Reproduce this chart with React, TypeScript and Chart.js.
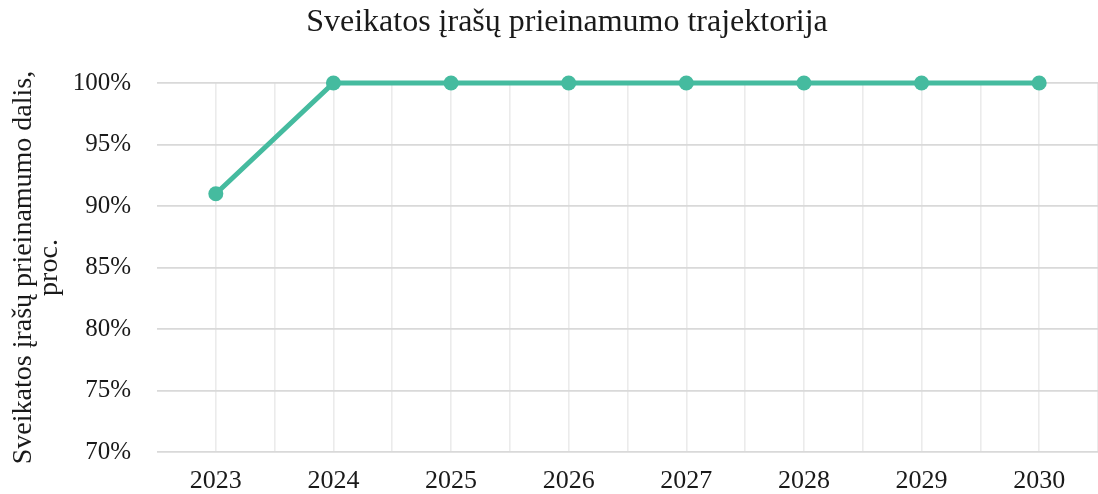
import React, { useEffect, useRef } from "react";
import { Chart, registerables } from "chart.js";

Chart.register(...registerables);

const title = "Sveikatos įrašų prieinamumo trajektorija";
const yAxisTitle = ["Sveikatos įrašų prieinamumo dalis,", "proc."];
const years = [2023, 2024, 2025, 2026, 2027, 2028, 2029, 2030];
const values = [91, 100, 100, 100, 100, 100, 100, 100];
const yMin = 70;
const yMax = 100;
const yStep = 5;

const FONT = "'Liberation Serif', 'Times New Roman', serif";
const LINE_COLOR = "#45bb9f";
const TEXT_COLOR = "#1a1a1a";

const textPlugin = {
  id: "customText",
  afterDraw(chart: any) {
    const ctx = chart.ctx;
    const area = chart.chartArea;
    ctx.save();
    ctx.fillStyle = TEXT_COLOR;
    ctx.font = `32px ${FONT}`;
    ctx.textAlign = "center";
    ctx.textBaseline = "alphabetic";
    ctx.fillText(title, 567, 31);
    ctx.restore();

    ctx.save();
    ctx.fillStyle = TEXT_COLOR;
    ctx.font = `28px ${FONT}`;
    ctx.textAlign = "center";
    ctx.textBaseline = "alphabetic";
    const cy = (area.top + area.bottom) / 2;
    const baselines = [31, 57];
    yAxisTitle.forEach((line, i) => {
      ctx.save();
      ctx.translate(baselines[i], cy);
      ctx.rotate(-Math.PI / 2);
      ctx.fillText(line, 0, 0);
      ctx.restore();
    });
    ctx.restore();
  },
};

export default function App() {
  const ref = useRef<HTMLCanvasElement | null>(null);
  useEffect(() => {
    if (!ref.current) return;
    const chart = new Chart(ref.current, {
      type: "line",
      data: {
        datasets: [
          {
            data: years.map((y, i) => ({ x: y, y: values[i] })),
            borderColor: LINE_COLOR,
            backgroundColor: LINE_COLOR,
            borderWidth: 5,
            pointRadius: 7.5,
            pointHoverRadius: 7.5,
            pointBorderWidth: 0,
            tension: 0,
            clip: false,
          } as any,
        ],
      },
      options: {
        animation: false,
        responsive: false,
        maintainAspectRatio: false,
        layout: { autoPadding: false, padding: { top: 83, left: 0, right: 0, bottom: 0 } },
        plugins: {
          legend: { display: false },
          title: { display: false },
          tooltip: { enabled: false },
        },
        scales: {
          x: {
            type: "linear",
            min: years[0] - 0.5,
            max: years[years.length - 1] + 0.5,
            afterBuildTicks(scale: any) {
              const t: any[] = [];
              for (let v = years[0] - 0.5; v <= years[years.length - 1] + 0.5 + 1e-9; v += 0.5) {
                t.push({ value: v });
              }
              scale.ticks = t;
            },
            afterFit(scale: any) {
              scale.height = 42;
              scale.paddingLeft = 0;
              scale.paddingRight = 0;
            },
            border: { display: false },
            grid: {
              color: (c: any) =>
                c.tick && Math.abs(c.tick.value - (years[0] - 0.5)) < 1e-6 ? "rgba(0,0,0,0)" : "#ebebeb",
              lineWidth: 1.6,
              drawTicks: false,
            },
            ticks: {
              autoSkip: false,
              maxRotation: 0,
              padding: 14,
              color: TEXT_COLOR,
              font: { family: FONT, size: 26 },
              callback: (v: any) => (Number.isInteger(v) && years.includes(v) ? String(v) : ""),
            },
          },
          y: {
            type: "linear",
            min: yMin,
            max: yMax,
            afterFit(scale: any) {
              scale.width = 157;
              scale.paddingTop = 0;
              scale.paddingBottom = 0;
            },
            border: { display: false },
            grid: {
              color: "#d9d9d9",
              lineWidth: 1.8,
              drawTicks: false,
            },
            ticks: {
              stepSize: yStep,
              padding: 26,
              color: TEXT_COLOR,
              font: { family: FONT, size: 25 },
              callback: (v: any) => `${v}%`,
            },
          },
        },
      },
      plugins: [textPlugin],
    });
    return () => chart.destroy();
  }, []);
  return (
    <div style={{ position: "fixed", left: 0, top: 0, width: 1098, height: 494, background: "#fff" }}>
      <canvas ref={ref} width={1098} height={494} style={{ width: 1098, height: 494, display: "block" }} />
    </div>
  );
}
